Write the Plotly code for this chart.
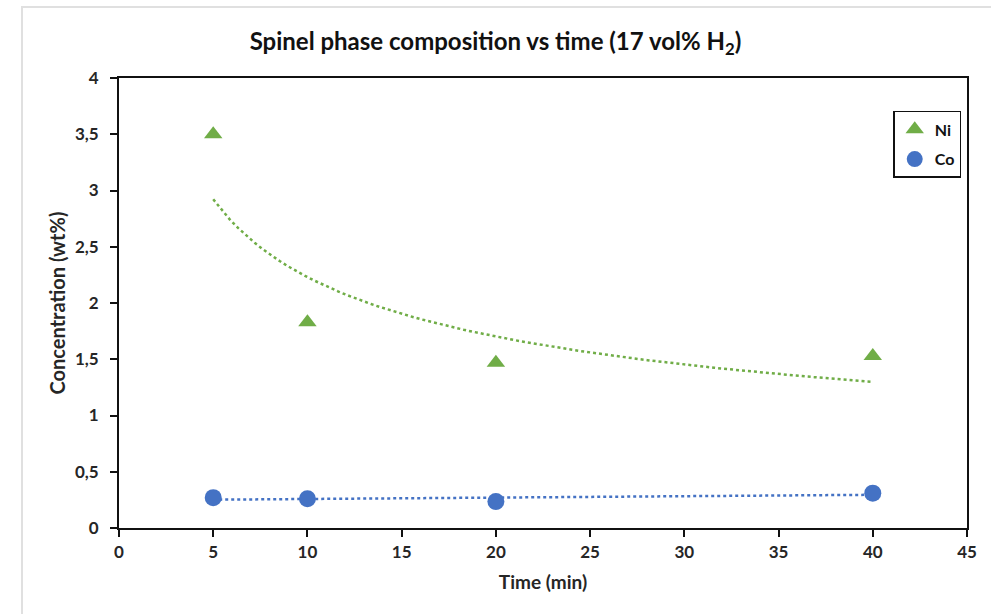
import numpy as np
import plotly.graph_objects as go

time_min = [5, 10, 20, 40]
ni_wt = [3.50, 1.83, 1.47, 1.53]
co_wt = [0.27, 0.26, 0.235, 0.31]

x_ticks = list(range(0, 50, 5))
y_ticks = [0, 0.5, 1, 1.5, 2, 2.5, 3, 3.5, 4]

GREEN = "#70AD47"
BLUE = "#4472C4"
FONT = "Lato"
TXT = "#262626"

# Trendlines fitted from the data (power fit for Ni, linear fit for Co)
xt = np.linspace(min(time_min), max(time_min), 80)
b, lna = np.polyfit(np.log(time_min), np.log(ni_wt), 1)
ni_trend = np.exp(lna) * xt ** b
m, c = np.polyfit(time_min, co_wt, 1)
co_trend = m * xt + c

fig = go.Figure()
fig.add_trace(go.Scatter(x=xt, y=ni_trend, mode="lines", showlegend=False,
                         line=dict(color=GREEN, width=2.5, dash="dot"), hoverinfo="skip"))
fig.add_trace(go.Scatter(x=xt, y=co_trend, mode="lines", showlegend=False,
                         line=dict(color=BLUE, width=2.5, dash="dot"), hoverinfo="skip"))
fig.add_trace(go.Scatter(x=time_min, y=ni_wt, mode="markers", name="Ni", legendgroup="ni",
                         marker=dict(symbol="triangle-up", size=16, color=GREEN)))
fig.add_trace(go.Scatter(x=time_min, y=co_wt, mode="markers", name="Co", legendgroup="co",
                         marker=dict(symbol="circle", size=17, color=BLUE)))

axis_common = dict(showline=True, linecolor="#111111", linewidth=2, mirror=True,
                   ticks="outside", ticklen=7, tickwidth=2, tickcolor="#111111",
                   showgrid=False, zeroline=False,
                   tickfont=dict(family=FONT, size=17, color=TXT, weight="bold"))

fig.update_xaxes(range=[0, 45], tickvals=x_ticks, ticklabelstandoff=1,
                 title=dict(text="Time (min)", font=dict(family=FONT, size=19, color=TXT, weight="bold"), standoff=14),
                 **axis_common)
fig.update_yaxes(range=[0, 4], tickvals=y_ticks, ticklabelstandoff=8,
                 title=dict(text="Concentration (wt%)", font=dict(family=FONT, size=20, color=TXT, weight="bold"), standoff=4),
                 **axis_common)

fig.update_layout(
    width=991, height=614,
    margin=dict(l=119, r=24, t=78, b=86),
    paper_bgcolor="white", plot_bgcolor="white",
    separators=", ",
    title=dict(text="Spinel phase composition vs time (17 vol% H<sub>2</sub>)",
               x=0.5, xanchor="center", y=0.932, yanchor="middle",
               font=dict(family=FONT, size=24, color="#111111", weight="bold")),
    legend=dict(x=0.913, y=0.927, xanchor="left", yanchor="top",
                bordercolor="#111111", borderwidth=1.5, bgcolor="white",
                tracegroupgap=6, itemwidth=30,
                font=dict(family=FONT, size=16, color="#111111", weight="bold")),
    shapes=[dict(type="rect", xref="paper", yref="paper",
                 x0=-97/848, x1=1 + 40/848, y0=-100/450, y1=1 + 71/450,
                 line=dict(color="#e0e0e0", width=2), layer="below")],
)

fig.write_html("out.html")
